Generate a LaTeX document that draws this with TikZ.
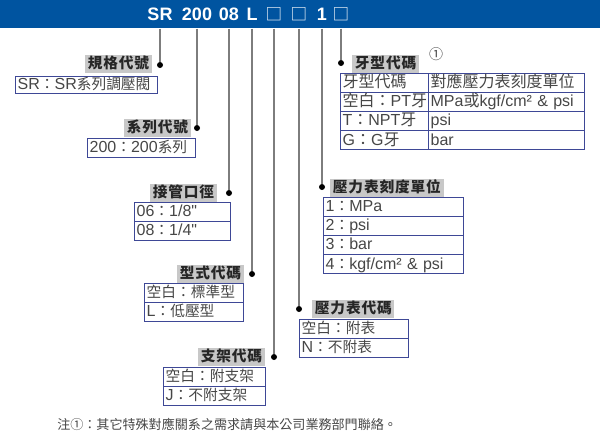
\documentclass[tikz,border=0pt]{standalone}
\usepackage{fontspec}
\setmainfont{Liberation Sans}[Ligatures=TeXOff]
\newfontfamily\hanfont{Noto Sans CJK TC}[Scale=0.92]
\newfontfamily\hanwidefont{Noto Sans CJK TC}
\newfontfamily\tagfont{Noto Sans CJK TC}[LetterSpace=6]
% switch to the CJK face for Han characters and full-width signs
\XeTeXinterchartokenstate=1
\newXeTeXintercharclass\hanclass
\count255="2460 \loop\ifnum\count255<"2500 \XeTeXcharclass\count255=\hanclass \advance\count255 by 1 \repeat
\count255="25A0 \loop\ifnum\count255<"2600 \XeTeXcharclass\count255=\hanclass \advance\count255 by 1 \repeat
\count255="3000 \loop\ifnum\count255<"A000 \XeTeXcharclass\count255=\hanclass \advance\count255 by 1 \repeat
\count255="FF00 \loop\ifnum\count255<"FFF0 \XeTeXcharclass\count255=\hanclass \advance\count255 by 1 \repeat
\XeTeXinterchartoks 0 \hanclass={\begingroup\hanfont}
\XeTeXinterchartoks 4095 \hanclass={\begingroup\hanfont}
\XeTeXinterchartoks \hanclass 0={\endgroup}
\XeTeXinterchartoks \hanclass 4095={\endgroup}
\usepackage{tikz}
\usetikzlibrary{positioning}
\definecolor{bandblue}{RGB}{0,84,160}
\definecolor{gridblue}{RGB}{62,72,150}
\definecolor{taggray}{RGB}{200,200,200}
\definecolor{inkgray}{RGB}{70,70,70}
\definecolor{leadgray}{RGB}{125,125,125}

\begin{document}
\begin{tikzpicture}[x=0.75pt,y=-0.75pt,every node/.style={inner sep=0pt},
  code/.style={text=white,font=\bfseries\fontsize{13.5}{14}\selectfont},
  tag/.style={fill=taggray,text=black!85,font=\let\hanfont\tagfont\bfseries\fontsize{11}{12}\selectfont,inner xsep=2pt,inner ysep=0.75pt,text height=9.5pt,text depth=2.5pt},
  cell/.style={draw=gridblue,line width=0.6pt,outer sep=0pt,inner xsep=2pt,inner ysep=1pt,text=inkgray,font=\fontsize{12}{13}\selectfont,text height=9.9pt,text depth=2.5pt,align=left,text width=#1},
  widecell/.style={cell=#1,font=\let\hanfont\hanwidefont\fontsize{12}{13}\selectfont},
  joint/.style={circle,fill=black,minimum size=4.5pt},
  lead/.style={draw=leadgray,line width=1pt}]
\useasboundingbox (0,0) rectangle (600,443);
% header band with the model code
\node[fill=bandblue,anchor=north west,minimum width=450pt,minimum height=21pt] (band) at (0,0) {};
\node[code] (hSR) at (160,14) {SR};
\node[code] (h200) at (197,14) {200};
\node[code] (h08) at (229,14) {08};
\node[code] (hL) at (252,14) {L};
\node[code] (hJ) at (274,14) {\mdseries □};
\node[code] (hN) at (299,14) {\mdseries □};
\node[code] (hU) at (322,14) {1};
\node[code] (hT) at (341,14) {\mdseries □};

% 規格代號
\node[joint] (dSR) at (160,65) {};
\draw[lead] (hSR |- band.south) -- (dSR);
\node[tag,anchor=south east] (tSR) at (152,73) {規格代號};
\node[cell=102.5pt,anchor=north west,text height=9pt,text depth=2pt] (rSR) at (15,76) {SR：SR系列調壓閥};

% 系列代號
\node[joint] (d200) at (197,128) {};
\draw[lead] (h200 |- band.south) -- (d200);
\node[tag,anchor=south east] (t200) at (191,137) {系列代號};
\node[cell=77pt,anchor=north west] (r200) at (87,138) {200：200系列};

% 接管口徑
\node[joint] (d08) at (229,193) {};
\draw[lead] (h08 |- band.south) -- (d08);
\node[tag,anchor=south east] (t08) at (217,202) {接管口徑};
\node[cell=68pt,anchor=north west] (r08a) at (134,202) {06：1/8"};
\node[cell=68pt,below=0pt of r08a] (r08b) {08：1/4"};

% 型式代碼
\node[joint] (dL) at (252,274) {};
\draw[lead] (hL |- band.south) -- (dL);
\node[tag,anchor=south east] (tL) at (244,283) {型式代碼};
\node[cell=70.25pt,anchor=north west] (rLa) at (144,283) {空白：標準型};
\node[cell=70.25pt,below=0pt of rLa] (rLb) {L：低壓型};

% 支架代碼
\node[joint] (dJ) at (274,357) {};
\draw[lead] (hJ |- band.south) -- (dJ);
\node[tag,anchor=south east] (tJ) at (265,366) {支架代碼};
\node[cell=72.5pt,anchor=north west] (rJa) at (163,367) {空白：附支架};
\node[cell=72.5pt,below=0pt of rJa] (rJb) {J：不附支架};

% 壓力表代碼
\node[joint] (dN) at (299,309) {};
\draw[lead] (hN |- band.south) -- (dN);
\node[tag,anchor=south west] (tN) at (312,318) {壓力表代碼};
\node[cell=77.75pt,anchor=north west] (rNa) at (299,319) {空白：附表};
\node[cell=77.75pt,below=0pt of rNa] (rNb) {N：不附表};

% 壓力表刻度單位
\node[joint] (dU) at (322,187) {};
\draw[lead] (hU |- band.south) -- (dU);
\node[tag,anchor=south west] (tU) at (330,197) {壓力表刻度單位};
\node[cell=101pt,anchor=north west] (rUa) at (323,197) {1：MPa};
\node[cell=101pt,below=0pt of rUa] (rUb) {2：psi};
\node[cell=101pt,below=0pt of rUb] (rUc) {3：bar};
\node[cell=101pt,below=0pt of rUc] (rUd) {4：kgf/cm² \& psi};

% 牙型代碼
\node[joint] (dT) at (341,63) {};
\draw[lead] (hT |- band.south) -- (dT);
\node[tag,anchor=south west] (tT) at (352,73) {牙型代碼};
\node[text=inkgray,font=\let\hanfont\hanwidefont\fontsize{10.5}{11}\selectfont] (note) at (436,54) {①};
\node[widecell=62pt,anchor=north west] (rTa) at (340,73) {牙型代碼};
\node[widecell=113pt,right=0pt of rTa] (sTa) {對應壓力表刻度單位};
\node[widecell=62pt,below=0pt of rTa] (rTb) {空白：PT牙};
\node[widecell=113pt,right=0pt of rTb] (sTb) {MPa或kgf/cm² \& psi};
\node[widecell=62pt,below=0pt of rTb] (rTc) {T：NPT牙};
\node[widecell=113pt,right=0pt of rTc] (sTc) {psi};
\node[widecell=62pt,below=0pt of rTc] (rTd) {G：G牙};
\node[widecell=113pt,right=0pt of rTd] (sTd) {bar};

% footnote
\node[anchor=west,text=inkgray,font=\let\hanfont\hanwidefont\fontsize{9.8}{11}\selectfont] (foot) at (57,424) {注①：其它特殊對應關系之需求請與本公司業務部門聯絡。};
\end{tikzpicture}
\end{document}
